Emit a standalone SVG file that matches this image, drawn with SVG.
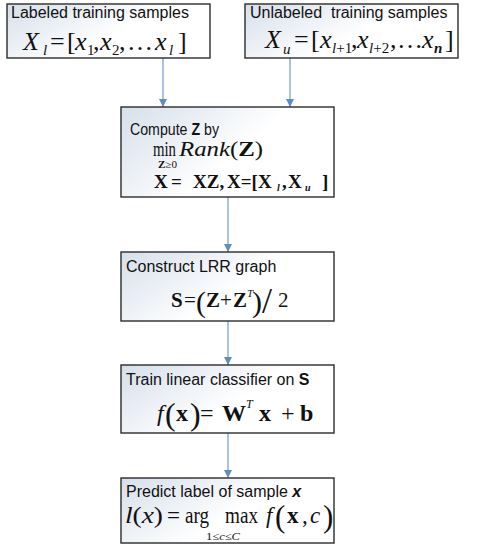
<svg xmlns="http://www.w3.org/2000/svg" width="483" height="550" viewBox="0 0 483 550">
<defs>
<linearGradient id="boxfill" x1="0" y1="0" x2="1" y2="0.5">
<stop offset="0" stop-color="#d6dfea"/>
<stop offset="0.65" stop-color="#ffffff"/>
<stop offset="1" stop-color="#ffffff"/>
</linearGradient>
<marker id="arr" viewBox="0 0 10 10" refX="10" refY="5" markerWidth="8" markerHeight="8" markerUnits="userSpaceOnUse" orient="auto">
<path d="M0,0 L10,5 L0,10 z" fill="#5d8fbb"/>
</marker>
</defs>
<style>
.box{fill:url(#boxfill);stroke:#2b2b2b;stroke-width:1.4}
.lab{font-family:"Liberation Sans",Arial,sans-serif;font-size:16px;fill:#111;white-space:pre}
.m{font-family:"Liberation Serif","Times New Roman",serif;fill:#111}
.i{font-style:italic}
.b{font-weight:bold}
.conn{stroke:#7ba4c9;stroke-width:1.3;fill:none}
</style>
<rect width="483" height="550" fill="#ffffff"/>

<g id="connectors">
<line class="conn" x1="163" y1="58" x2="163" y2="107" marker-end="url(#arr)"/>
<line class="conn" x1="290" y1="58" x2="290" y2="107" marker-end="url(#arr)"/>
<line class="conn" x1="228" y1="197" x2="228" y2="252" marker-end="url(#arr)"/>
<line class="conn" x1="228" y1="321" x2="228" y2="365" marker-end="url(#arr)"/>
<line class="conn" x1="228" y1="433" x2="228" y2="478" marker-end="url(#arr)"/>
</g>

<g id="labeled">
<rect class="box" x="7" y="4" width="203" height="54"/>
<text class="lab" x="11" y="18">Labeled training samples</text>
<g class="m" font-size="26">
<text class="i" x="23" y="50">X</text>
<text class="i" x="43" y="55" font-size="15">l</text>
<text x="50" y="50">=</text>
<text x="67" y="50">[</text>
<text class="i" x="75" y="50">x</text>
<text x="87" y="55" font-size="15">1</text>
<text x="93" y="50">,</text>
<text class="i" x="100" y="50">x</text>
<text x="112" y="55" font-size="15">2</text>
<text x="119" y="50">,</text>
<text x="127" y="50">…</text>
<text class="i" x="155" y="50">x</text>
<text class="i" x="169" y="55" font-size="15">l</text>
<text x="178" y="50">]</text>
</g>
</g>

<g id="unlabeled">
<rect class="box" x="245" y="4" width="213" height="54"/>
<text class="lab" x="250" y="18">Unlabeled  training samples</text>
<g class="m" font-size="26">
<text class="i" x="265" y="48">X</text>
<text class="i" x="283" y="54" font-size="15">u</text>
<text x="294" y="48">=</text>
<text x="311" y="48">[</text>
<text class="i" x="320" y="48">x</text>
<text x="332" y="53" font-size="15"><tspan class="i">l</tspan>+1</text>
<text x="351" y="48">,</text>
<text class="i" x="357" y="48">x</text>
<text x="369" y="53" font-size="15"><tspan class="i">l</tspan>+2</text>
<text x="390" y="48">,</text>
<text x="397" y="48">…</text>
<text class="i" x="422" y="48">x</text>
<text class="i b" x="434" y="53" font-size="15">n</text>
<text x="445" y="48">]</text>
</g>
</g>

<g id="compute">
<rect class="box" x="121" y="107" width="213" height="90"/>
<text class="lab" x="130" y="135" textLength="89" lengthAdjust="spacingAndGlyphs">Compute <tspan class="b">Z</tspan> by</text>
<g class="m">
<text x="153" y="156" font-size="21" textLength="23" lengthAdjust="spacingAndGlyphs">min</text>
<text x="158" y="168" font-size="10" textLength="19" lengthAdjust="spacingAndGlyphs"><tspan class="b">Z</tspan>≥0</text>
<text x="179" y="156" font-size="21" textLength="84" lengthAdjust="spacingAndGlyphs"><tspan class="i">Rank</tspan>(<tspan class="b">Z</tspan>)</text>
<g class="b" font-size="19">
<text x="154" y="188">X</text>
<text x="171" y="188">=</text>
<text x="193" y="188">XZ,</text>
<text x="227" y="188">X=[X</text>
<text x="277" y="191" font-size="10" class="i">l</text>
<text x="282" y="188">,</text>
<text x="288" y="188">X</text>
<text x="305" y="191" font-size="10" class="i">u</text>
<text x="322" y="188">]</text>
</g>
</g>
</g>

<g id="lrr">
<rect class="box" x="121" y="252" width="213" height="69"/>
<text class="lab" x="126" y="272">Construct LRR graph</text>
<g class="m" font-size="21">
<text class="b" x="171" y="307">S</text>
<text x="184" y="307">=</text>
<text x="196" y="312" font-size="30">(</text>
<text class="b" x="206" y="307">Z</text>
<text x="220" y="307">+</text>
<text class="b" x="233" y="307">Z</text>
<text class="i" x="247" y="297" font-size="11">T</text>
<text x="252" y="312" font-size="30">)</text>
<text x="262" y="313" font-size="36">/</text>
<text x="278" y="307">2</text>
</g>
</g>

<g id="train">
<rect class="box" x="121" y="365" width="213" height="68"/>
<text class="lab" x="126" y="385">Train linear classifier on <tspan class="b">S</tspan></text>
<g class="m" font-size="24">
<text class="i" x="157" y="421">f</text>
<text x="165" y="425" font-size="32">(</text>
<text class="b" x="176" y="421">x</text>
<text x="190" y="425" font-size="32">)</text>
<text x="200" y="421">=</text>
<text class="b" x="222" y="421">W</text>
<text class="i" x="246" y="408" font-size="12">T</text>
<text class="b" x="259" y="421">x</text>
<text x="281" y="421">+</text>
<text class="b" x="300" y="421">b</text>
</g>
</g>

<g id="predict">
<rect class="box" x="121" y="478" width="213" height="65"/>
<text class="lab" x="126" y="497">Predict label of sample <tspan class="b i">x</tspan></text>
<g class="m" font-size="23">
<text x="125" y="523" textLength="38" lengthAdjust="spacingAndGlyphs"><tspan class="i">l</tspan>(<tspan class="i">x</tspan>)</text>
<text x="167" y="523">=</text>
<text x="185" y="523" textLength="24" lengthAdjust="spacingAndGlyphs">arg</text>
<text x="225" y="523" textLength="33" lengthAdjust="spacingAndGlyphs">max</text>
<text class="i" x="266" y="523">f</text>
<text x="275" y="527" font-size="31">(</text>
<text class="b" x="287" y="523">x</text>
<text x="302" y="523">,</text>
<text class="i" x="310" y="523">c</text>
<text x="323" y="527" font-size="31">)</text>
<text x="206" y="540" font-size="11" textLength="34" lengthAdjust="spacingAndGlyphs">1≤<tspan class="i">c</tspan>≤<tspan class="i">C</tspan></text>
</g>
</g>
</svg>
